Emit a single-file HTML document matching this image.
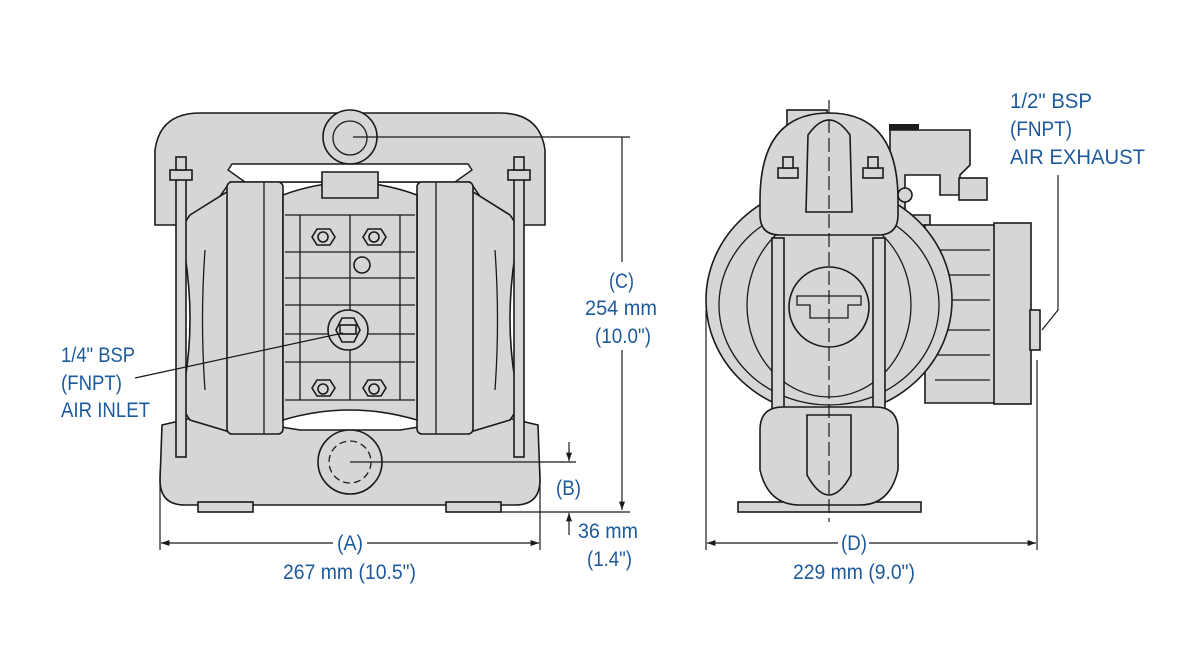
<!DOCTYPE html>
<html><head><meta charset="utf-8"><style>
html,body{margin:0;padding:0;background:#fff;width:1200px;height:660px;overflow:hidden}
svg{display:block}
text{font-family:"Liberation Sans Narrow","Liberation Sans",sans-serif;font-size:21px;fill:#1d5a9b}
.p{fill:#d5d6d8;stroke:#1a1a1a;stroke-width:1.6}
.l{fill:none;stroke:#1a1a1a;stroke-width:1.3}
.d{fill:none;stroke:#1a1a1a;stroke-width:1.2}
.w{fill:#fff;stroke:#1a1a1a;stroke-width:1.4}
</style></head><body>
<svg width="1200" height="660" viewBox="0 0 1200 660" xmlns="http://www.w3.org/2000/svg">
<defs>
<marker id="ar" markerWidth="8" markerHeight="8" refX="7" refY="4" orient="auto"><path d="M0,1.5 L7,4 L0,6.5z" fill="#1a1a1a"/></marker>
</defs>
<!-- LEFT PUMP -->
<path class="p" d="M162,425 L205,415 L300,430 L400,430 L495,415 L538,425 L540,480 Q540,505 515,505 L185,505 Q160,505 160,480Z"/>
<path class="p" d="M200,113 L500,113 Q540,113 545,150 L545,225 L500,225 L470,182 L230,182 L200,225 L155,225 L155,150 Q160,113 200,113Z"/>
<path class="w" d="M232,164 L468,164 L472,170 L455,182 L245,182 L228,170Z"/>
<path class="p" d="M190,215 L230,190 L230,432 L190,420 Q175,400 185,380 Q195,320 185,255 Q175,235 190,215Z"/>
<path class="p" d="M510,215 L470,190 L470,432 L510,420 Q525,400 515,380 Q505,320 515,255 Q525,235 510,215Z"/>
<path class="l" d="M205,250 Q200,320 205,390 M495,250 Q500,320 495,390"/>
<rect class="p" x="227" y="182" width="56" height="252" rx="5"/>
<rect class="p" x="417" y="182" width="56" height="252" rx="5"/>
<line class="l" x1="264" y1="182" x2="264" y2="434"/><line class="l" x1="436" y1="182" x2="436" y2="434"/>
<path class="p" d="M283,195 Q350,170 417,195 L417,420 Q350,400 283,420Z"/>
<path class="p" d="M322,172 L378,172 L378,198 L322,198Z"/>
<g class="l">
<line x1="285" y1="215" x2="415" y2="215"/><line x1="285" y1="252" x2="415" y2="252"/>
<line x1="285" y1="278" x2="415" y2="278"/><line x1="285" y1="305" x2="415" y2="305"/>
<line x1="285" y1="334" x2="415" y2="334"/><line x1="285" y1="362" x2="415" y2="362"/>
<line x1="285" y1="400" x2="415" y2="400"/>
<line x1="300" y1="215" x2="300" y2="400"/><line x1="400" y1="215" x2="400" y2="400"/>
<line x1="350" y1="215" x2="350" y2="400"/>
</g>
<g class="p">
<path d="M312,237 L317,229 L330,229 L335,237 L330,245 L317,245Z"/><circle cx="323" cy="237" r="5"/>
<path d="M363,237 L368,229 L381,229 L386,237 L381,245 L368,245Z"/><circle cx="374" cy="237" r="5"/>
<path d="M312,388 L317,380 L330,380 L335,388 L330,396 L317,396Z"/><circle cx="323" cy="389" r="5"/>
<path d="M363,388 L368,380 L381,380 L386,388 L381,396 L368,396Z"/><circle cx="374" cy="389" r="5"/>
<circle cx="362" cy="265" r="8"/>
<circle cx="348" cy="330" r="20"/><path d="M336,330 L342,318 L354,318 L360,330 L354,342 L342,342Z"/><rect x="340" y="325" width="16" height="9"/>
</g>
<rect class="p" x="176" y="175" width="10" height="282"/><rect class="p" x="514" y="175" width="10" height="282"/>
<rect class="p" x="170" y="170" width="22" height="10"/><rect class="p" x="508" y="170" width="22" height="10"/>
<rect class="p" x="176" y="157" width="10" height="13"/><rect class="p" x="514" y="157" width="10" height="13"/>
<circle class="p" cx="350" cy="137" r="27"/><circle class="l" cx="350" cy="138" r="17"/>
<circle class="p" cx="350" cy="462" r="32"/><circle class="l" cx="350" cy="462" r="21" stroke-dasharray="7,4"/>
<rect class="p" x="198" y="502" width="55" height="10"/><rect class="p" x="446" y="502" width="55" height="10"/>

<!-- RIGHT PUMP -->
<rect class="p" x="787" y="110" width="40" height="30"/>
<path class="p" d="M890,130 L970,130 L970,165 L960,175 L960,195 L940,195 L940,175 L905,175 L905,215 L930,215 L930,225 L890,225Z"/>
<rect class="p" x="959" y="178" width="28" height="22"/>
<rect x="889" y="124" width="30" height="6" fill="#1a1a1a"/>
<circle class="p" cx="905" cy="195" r="7"/>
<path class="p" d="M925,225 L995,225 L995,403 L925,403Z"/>
<rect class="p" x="994" y="223" width="37" height="181"/>
<rect class="p" x="1030" y="310" width="10" height="40"/>
<g class="l"><line x1="935" y1="250" x2="990" y2="250"/><line x1="935" y1="275" x2="990" y2="275"/><line x1="935" y1="300" x2="990" y2="300"/><line x1="935" y1="330" x2="990" y2="330"/><line x1="935" y1="355" x2="990" y2="355"/><line x1="935" y1="380" x2="990" y2="380"/></g>
<ellipse class="p" cx="829" cy="300" rx="123" ry="115"/>
<ellipse class="l" cx="829" cy="305" rx="110" ry="100"/>
<ellipse class="l" cx="829" cy="305" rx="82" ry="92"/>
<rect class="p" x="772" y="238" width="12" height="180"/><rect class="p" x="873" y="238" width="12" height="180"/>
<path class="p" d="M760,200 Q760,113 829,113 Q898,113 898,200 L898,215 Q898,235 878,235 L780,235 Q760,235 760,215Z"/>
<path class="p" d="M806,212 L808,135 Q829,105 850,135 L852,212Z"/>
<rect class="p" x="778" y="168" width="20" height="10"/><rect class="p" x="863" y="168" width="20" height="10"/>
<rect class="p" x="783" y="157" width="10" height="11"/><rect class="p" x="868" y="157" width="10" height="11"/>
<circle class="p" cx="829" cy="307" r="40"/>
<path class="l" d="M797,296 L861,296 L861,305 L848,305 L848,318 L810,318 L810,305 L797,305Z"/>
<rect class="p" x="738" y="502" width="183" height="10"/>
<path class="p" d="M760,430 Q760,407 783,407 L875,407 Q898,407 898,430 L898,470 Q890,505 860,505 L800,505 Q768,505 760,470Z"/>
<path class="p" d="M807,415 L851,415 L851,475 Q829,515 807,475Z"/>
<line class="d" x1="829" y1="100" x2="829" y2="522" stroke-dasharray="14,5"/>

<!-- DIMENSIONS -->
<g class="d">
<line x1="353" y1="137" x2="630" y2="137"/>
<line x1="622" y1="137" x2="622" y2="262"/><line x1="622" y1="350" x2="622" y2="510" marker-end="url(#ar)"/>
<line x1="350" y1="462" x2="576" y2="462"/>
<line x1="569" y1="442" x2="569" y2="461" marker-end="url(#ar)"/>
<line x1="500" y1="512" x2="630" y2="512"/>
<line x1="569" y1="535" x2="569" y2="513" marker-end="url(#ar)"/>
<line x1="160" y1="470" x2="160" y2="550"/><line x1="540" y1="470" x2="540" y2="550"/>
<line x1="333" y1="543" x2="161" y2="543" marker-end="url(#ar)"/><line x1="367" y1="543" x2="539" y2="543" marker-end="url(#ar)"/>
<line x1="706" y1="310" x2="706" y2="550"/><line x1="1037" y1="360" x2="1037" y2="550"/>
<line x1="838" y1="543" x2="707" y2="543" marker-end="url(#ar)"/><line x1="869" y1="543" x2="1036" y2="543" marker-end="url(#ar)"/>
<line x1="135" y1="378" x2="343" y2="333"/>
<polyline points="1058,175 1058,310 1042,330"/>
</g>

<!-- TEXT -->
<text x="61" y="362" textLength="74" lengthAdjust="spacingAndGlyphs">1/4" BSP</text>
<text x="61" y="390" textLength="61" lengthAdjust="spacingAndGlyphs">(FNPT)</text>
<text x="61" y="417" textLength="89" lengthAdjust="spacingAndGlyphs">AIR INLET</text>
<text x="609" y="288" textLength="25" lengthAdjust="spacingAndGlyphs">(C)</text>
<text x="585" y="315" textLength="72" lengthAdjust="spacingAndGlyphs">254 mm</text>
<text x="595" y="343" textLength="56" lengthAdjust="spacingAndGlyphs">(10.0")</text>
<text x="556" y="495" textLength="25" lengthAdjust="spacingAndGlyphs">(B)</text>
<text x="578" y="538" textLength="60" lengthAdjust="spacingAndGlyphs">36 mm</text>
<text x="587" y="566" textLength="45" lengthAdjust="spacingAndGlyphs">(1.4")</text>
<text x="337" y="550" textLength="26" lengthAdjust="spacingAndGlyphs">(A)</text>
<text x="283" y="579" textLength="133" lengthAdjust="spacingAndGlyphs">267 mm (10.5")</text>
<text x="841" y="550" textLength="26" lengthAdjust="spacingAndGlyphs">(D)</text>
<text x="793" y="579" textLength="122" lengthAdjust="spacingAndGlyphs">229 mm (9.0")</text>
<text x="1010" y="108" textLength="82" lengthAdjust="spacingAndGlyphs">1/2" BSP</text>
<text x="1010" y="136" textLength="62" lengthAdjust="spacingAndGlyphs">(FNPT)</text>
<text x="1010" y="164" textLength="135" lengthAdjust="spacingAndGlyphs">AIR EXHAUST</text>
</svg>
</body></html>
